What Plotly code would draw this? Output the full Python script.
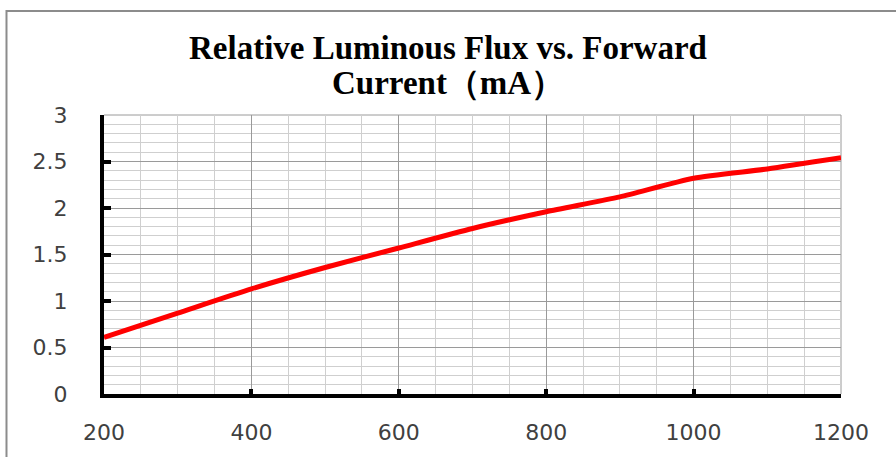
import plotly.graph_objects as go

current_ma = [200, 300, 400, 500, 600, 700, 800, 900, 1000, 1100, 1200]
relative_flux = [0.61, 0.87, 1.13, 1.36, 1.57, 1.78, 1.96, 2.12, 2.32, 2.42, 2.54]

x_ticks = [200, 400, 600, 800, 1000, 1200]
y_ticks = [0, 0.5, 1, 1.5, 2, 2.5, 3]
y_tick_labels = ["0", "0.5", "1", "1.5", "2", "2.5", "3"]

title_line1 = "Relative Luminous Flux vs. Forward"
title_line2 = "Current（mA）"

fig = go.Figure()
fig.add_trace(go.Scatter(
    x=current_ma, y=relative_flux, mode="lines",
    line=dict(color="#ff0000", width=5, shape="spline", smoothing=0.6),
    showlegend=False, hoverinfo="skip",
))

major_grid = "#9a9a9a"
minor_grid = "#cfcfcf"
tick_font = dict(family="DejaVu Sans, Liberation Sans, sans-serif", size=22, color="#404040")
title_font = dict(family="Liberation Serif, Times New Roman, serif", size=33, color="#000000",
                  weight="bold")

fig.update_layout(
    width=896, height=457,
    margin=dict(l=104, r=55, t=115, b=63),
    paper_bgcolor="white", plot_bgcolor="white",
    xaxis=dict(
        range=[200, 1200], tickvals=x_ticks, ticktext=[str(v) for v in x_ticks],
        showline=True, linecolor="black", linewidth=4,
        ticks="inside", ticklen=5, tickwidth=4, tickcolor="black",
        ticklabelstandoff=16, automargin=False,
        showgrid=True, gridcolor=major_grid, gridwidth=1,
        minor=dict(dtick=50, showgrid=True, gridcolor=minor_grid, gridwidth=1, ticks=""),
        zeroline=False, tickfont=tick_font, fixedrange=True,
    ),
    yaxis=dict(
        range=[0, 3], tickvals=y_ticks, ticktext=y_tick_labels,
        showline=True, linecolor="black", linewidth=4,
        ticks="inside", ticklen=7, tickwidth=4, tickcolor="black",
        ticklabelstandoff=28, automargin=False,
        showgrid=True, gridcolor=major_grid, gridwidth=1,
        minor=dict(dtick=0.1, showgrid=True, gridcolor=minor_grid, gridwidth=1, ticks=""),
        zeroline=False, tickfont=tick_font, fixedrange=True,
    ),
    annotations=[
        dict(text="<b>" + title_line1 + "</b>", xref="paper", yref="paper",
             x=0.4668, y=1.2401, xanchor="center", yanchor="middle",
             showarrow=False, font=title_font),
        dict(text="<b>" + title_line2 + "</b>", xref="paper", yref="paper",
             x=0.4668, y=1.1147, xanchor="center", yanchor="middle",
             showarrow=False, font=title_font),
    ],
    shapes=[
        dict(type="rect", xref="paper", yref="paper",
             x0=-0.1323, x1=1.3, y0=-0.5, y1=1.3728,
             line=dict(color="#8c8c8c", width=2), fillcolor="rgba(0,0,0,0)", layer="below"),
        dict(type="line", xref="paper", yref="paper", x0=0, x1=1, y0=1, y1=1,
             line=dict(color=major_grid, width=1), layer="below"),
        dict(type="line", xref="paper", yref="paper", x0=1, x1=1, y0=0, y1=1,
             line=dict(color=major_grid, width=1), layer="below"),
    ],
)

fig.write_html("out.html", config={"displayModeBar": False},
               post_script="document.body.style.margin='0';")
